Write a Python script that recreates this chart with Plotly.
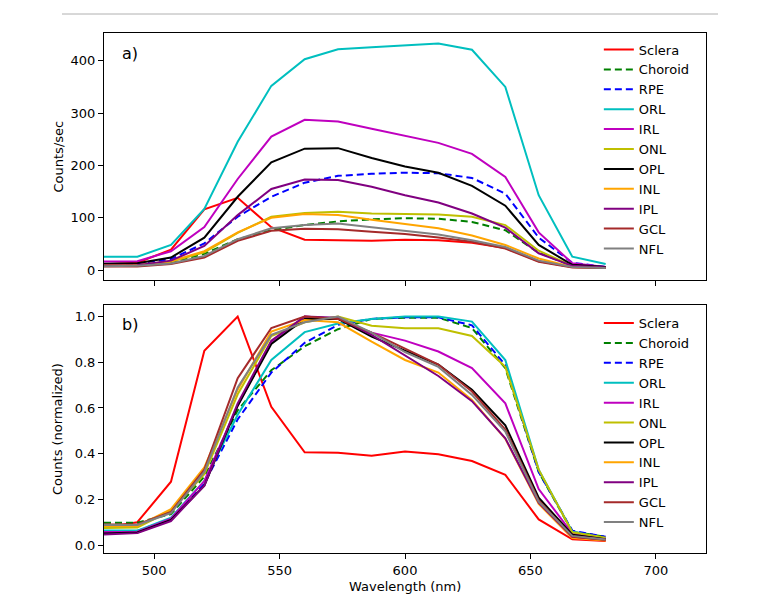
import plotly.graph_objects as go
from plotly.subplots import make_subplots

# wavelength samples (nm)
wavelength = [480, 493.3, 506.7, 520, 533.3, 546.7, 560, 573.3, 586.7, 600,
              613.3, 626.7, 640, 653.3, 666.7, 680]

layers = ["Sclera", "Choroid", "RPE", "ORL", "IRL", "ONL", "OPL", "INL", "IPL", "GCL", "NFL"]

# a) raw counts/sec
sclera_raw = [11, 14, 39, 116, 138, 82, 58, 57, 56, 58, 57, 52, 42, 17, 6, 5]
choroid_raw = [9.5, 9.7, 14, 31, 59, 76, 86, 93, 97, 99, 98, 92, 76, 33, 8, 5]
rpe_raw = [11, 12, 21, 51, 102, 140, 167, 180, 184, 186, 185, 176, 146, 62, 14, 6]
orl_raw = [25.5, 25.5, 48, 117, 245, 352, 403, 422, 426, 430, 433, 421, 350, 143, 25.5, 11.5]
irl_raw = [16.5, 17, 36, 82, 174, 255, 287, 284, 270, 256, 243, 222, 178, 72, 13, 6]
onl_raw = [8.5, 9, 16, 34, 71, 102, 109, 111.5, 108, 107, 106, 102, 86, 37, 8, 5]
opl_raw = [12, 13, 24, 62, 140, 206, 232, 233, 214, 198, 186, 161, 123, 48, 10, 6]
inl_raw = [9, 9, 17, 36, 72, 100, 107, 105, 96, 88, 80, 66, 48, 22, 6, 4]
ipl_raw = [8.5, 9, 18, 46, 105, 155, 173, 172, 159, 143, 129, 108, 81, 32, 8, 5]
gcl_raw = [7, 7, 11.5, 24, 56, 75, 79, 78, 73, 69, 62, 54, 41, 16, 5, 4]
nfl_raw = [7.5, 8, 12.5, 27, 59, 80, 86, 89, 82, 75, 68, 57, 44, 18, 6, 4]

# b) normalized counts
sclera_norm = [0.075, 0.10, 0.277, 0.85, 1.0, 0.605, 0.406, 0.404, 0.391, 0.409, 0.397, 0.368, 0.307, 0.112, 0.025, 0.017]
choroid_norm = [0.097, 0.098, 0.135, 0.30, 0.59, 0.765, 0.87, 0.945, 0.99, 0.995, 0.995, 0.95, 0.774, 0.32, 0.058, 0.036]
rpe_norm = [0.06, 0.062, 0.115, 0.27, 0.55, 0.755, 0.885, 0.964, 0.99, 0.997, 0.997, 0.962, 0.788, 0.32, 0.063, 0.036]
orl_norm = [0.063, 0.063, 0.12, 0.28, 0.57, 0.81, 0.932, 0.97, 0.99, 1.0, 1.0, 0.978, 0.81, 0.33, 0.058, 0.03]
irl_norm = [0.057, 0.058, 0.115, 0.28, 0.61, 0.89, 1.0, 0.99, 0.93, 0.895, 0.847, 0.775, 0.62, 0.245, 0.05, 0.027]
onl_norm = [0.075, 0.077, 0.15, 0.31, 0.66, 0.915, 0.975, 1.0, 0.96, 0.949, 0.949, 0.915, 0.78, 0.33, 0.056, 0.032]
opl_norm = [0.05, 0.055, 0.11, 0.26, 0.61, 0.88, 0.99, 0.99, 0.912, 0.85, 0.79, 0.68, 0.524, 0.207, 0.045, 0.025]
inl_norm = [0.083, 0.083, 0.157, 0.34, 0.68, 0.935, 0.985, 0.975, 0.89, 0.81, 0.755, 0.635, 0.465, 0.18, 0.03, 0.02]
ipl_norm = [0.046, 0.052, 0.105, 0.26, 0.62, 0.895, 1.0, 0.995, 0.92, 0.83, 0.74, 0.63, 0.467, 0.185, 0.036, 0.024]
gcl_norm = [0.09, 0.09, 0.145, 0.33, 0.73, 0.95, 1.0, 0.99, 0.93, 0.86, 0.79, 0.672, 0.506, 0.195, 0.037, 0.022]
nfl_norm = [0.088, 0.088, 0.14, 0.32, 0.69, 0.92, 0.975, 1.0, 0.93, 0.845, 0.78, 0.657, 0.497, 0.19, 0.04, 0.024]

raw = [sclera_raw, choroid_raw, rpe_raw, orl_raw, irl_raw, onl_raw, opl_raw, inl_raw, ipl_raw, gcl_raw, nfl_raw]
norm = [sclera_norm, choroid_norm, rpe_norm, orl_norm, irl_norm, onl_norm, opl_norm, inl_norm, ipl_norm, gcl_norm, nfl_norm]

colors = ["#ff0000", "#008000", "#0000ff", "#00bfbf", "#bf00bf", "#bfbf00",
          "#000000", "#ffa500", "#800080", "#a52a2a", "#808080"]
dashes = ["solid", "7px,4px", "7px,4px", "solid", "solid", "solid",
          "solid", "solid", "solid", "solid", "solid"]

FONT = "DejaVu Sans"

fig = make_subplots(rows=2, cols=1)

for name, ys, col, dash in zip(layers, raw, colors, dashes):
    fig.add_trace(go.Scatter(x=wavelength, y=ys, name=name, mode="lines",
                             line=dict(color=col, width=2, dash=dash),
                             legend="legend"), row=1, col=1)

for name, ys, col, dash in zip(layers, norm, colors, dashes):
    fig.add_trace(go.Scatter(x=wavelength, y=ys, name=name, mode="lines",
                             line=dict(color=col, width=2, dash=dash),
                             legend="legend2"), row=2, col=1)

axis_style = dict(showline=True, linecolor="black", linewidth=1, mirror=True,
                  ticks="outside", ticklen=5, tickwidth=1, tickcolor="black",
                  showgrid=False, zeroline=False,
                  tickfont=dict(family=FONT, size=13, color="black"))

fig.update_xaxes(range=[480, 720], tickvals=[500, 550, 600, 650, 700], **axis_style)
fig.update_xaxes(showticklabels=False, row=1, col=1)
fig.update_yaxes(**axis_style)
fig.update_yaxes(range=[-19, 453], tickvals=[0, 100, 200, 300, 400], row=1, col=1)
fig.update_yaxes(range=[-0.035, 1.051], tickvals=[0, 0.2, 0.4, 0.6, 0.8, 1.0],
                 tickformat=".1f", row=2, col=1)

legend_style = dict(bgcolor="rgba(0,0,0,0)", borderwidth=0, xanchor="left", yanchor="top",
                    font=dict(family=FONT, size=13, color="black"), tracegroupgap=0)


def label(text, x, y, size=13, angle=0):
    return dict(text=text, x=x, y=y, xref="paper", yref="paper", showarrow=False,
                xanchor="center", yanchor="middle", textangle=angle,
                font=dict(family=FONT, size=size, color="black"))


fig.update_layout(
    width=780, height=608,
    margin=dict(l=104, r=74, t=33, b=55),
    paper_bgcolor="white", plot_bgcolor="white",
    font=dict(family=FONT, size=13, color="black"),
    yaxis=dict(domain=[0.525, 1.0]),
    yaxis2=dict(domain=[0.0, 0.477]),
    xaxis=dict(domain=[0, 1]),
    xaxis2=dict(domain=[0, 1]),
    legend=dict(x=0.822, y=0.997, **legend_style),
    legend2=dict(x=0.822, y=0.471, **legend_style),
    annotations=[
        label("a)", 0.043, 0.9615, size=16),
        label("b)", 0.043, 0.4385, size=16),
        label("Counts/sec", (58 - 104) / 602, 0.7625, angle=-90),
        label("Counts (normalized)", (58 - 104) / 602, 0.2385, angle=-90),
        label("Wavelength (nm)", 0.5, (553 - 586) / 520),
    ],
    shapes=[
        dict(type="line", xref="paper", yref="paper", x0=(62 - 104) / 602, x1=(718 - 104) / 602,
             y0=(553 - 14) / 520, y1=(553 - 14) / 520, line=dict(color="#b0b0b0", width=1)),
    ],
)

# drop the default page margin so the figure sits at the window origin
fig.write_html("out.html", config={"displayModeBar": False},
               post_script="document.body.style.margin='0';")
